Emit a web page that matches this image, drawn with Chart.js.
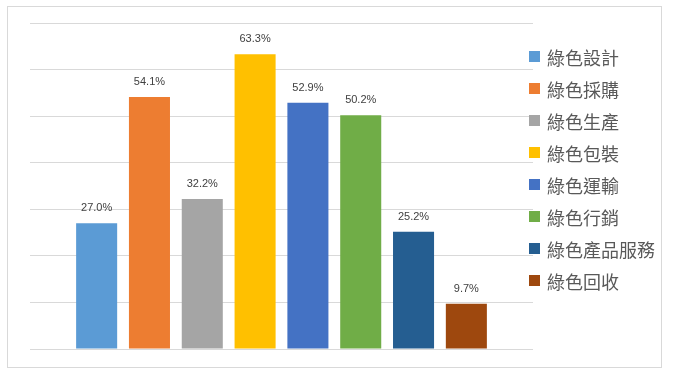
<!DOCTYPE html>
<html>
<head>
<meta charset="utf-8">
<script src="https://cdn.jsdelivr.net/npm/chart.js@4/dist/chart.umd.min.js"></script>
<style>
  html, body { margin: 0; padding: 0; background: #fff; }
  #wrap { position: relative; width: 680px; height: 379px; }
  #frame { position: absolute; left: 7px; top: 6px; width: 655px; height: 362px; border: 1px solid #d9d9d9; box-sizing: border-box; }
  #chart { position: absolute; left: 0; top: 0; }
  #legend { position: absolute; left: 529px; top: 0; font-family: "Noto Sans CJK TC", "Noto Sans", sans-serif; font-size: 18px; color: #595959; }
  .item { position: absolute; left: 0; height: 22px; line-height: 22px; white-space: nowrap; }
  .box { position: absolute; left: 0; top: 5px; width: 11px; height: 11px; }
  .txt { position: absolute; left: 18px; top: 0; }
</style>
</head>
<body>
<div id="wrap">
  <div id="frame"></div>
  <canvas id="chart" width="680" height="379"></canvas>
  <div id="legend"></div>
</div>
<script>
// Categories (one bar each) and their values in percent
const categories = ["綠色設計", "綠色採購", "綠色生產", "綠色包裝", "綠色運輸", "綠色行銷", "綠色產品服務", "綠色回收"];
const values = [27.0, 54.1, 32.2, 63.3, 52.9, 50.2, 25.2, 9.7];
const colors = ["#5B9BD5", "#ED7D31", "#A5A5A5", "#FFC000", "#4472C4", "#70AD47", "#255E91", "#9E480E"];

// Value labels above each bar
const barLabels = {
  id: "barLabels",
  afterDatasetsDraw(chart) {
    const ctx = chart.ctx;
    ctx.save();
    ctx.font = "11px 'Liberation Sans', 'Noto Sans', sans-serif";
    ctx.fillStyle = "#404040";
    ctx.textAlign = "center";
    ctx.textBaseline = "middle";
    chart.data.datasets.forEach((ds, i) => {
      const bar = chart.getDatasetMeta(i).data[0];
      ctx.fillText(ds.data[0].toFixed(1) + "%", bar.x, bar.y - 15);
    });
    ctx.restore();
  }
};

new Chart(document.getElementById("chart"), {
  type: "bar",
  data: {
    labels: [""],
    datasets: categories.map((name, i) => ({
      label: name,
      data: [values[i]],
      backgroundColor: colors[i],
      categoryPercentage: 0.84,
      barPercentage: 0.777
    }))
  },
  options: {
    responsive: false,
    animation: false,
    layout: { padding: { left: 30, right: 147, top: 23, bottom: 30 } },
    plugins: {
      legend: { display: false },
      tooltip: { enabled: false }
    },
    scales: {
      x: { display: false },
      y: {
        min: 0,
        max: 70,
        ticks: { display: false, stepSize: 10 },
        grid: { color: "#d9d9d9", lineWidth: 1, drawTicks: false },
        border: { display: false },
        afterFit: (s) => { s.width = 0; }
      }
    }
  },
  plugins: [barLabels]
});

// Legend on the right
const legend = document.getElementById("legend");
categories.forEach((name, i) => {
  const item = document.createElement("div");
  item.className = "item";
  item.style.top = (46 + i * 32) + "px";
  item.innerHTML = '<span class="box" style="background:' + colors[i] + '"></span><span class="txt">' + name + '</span>';
  legend.appendChild(item);
});
</script>
</body>
</html>
